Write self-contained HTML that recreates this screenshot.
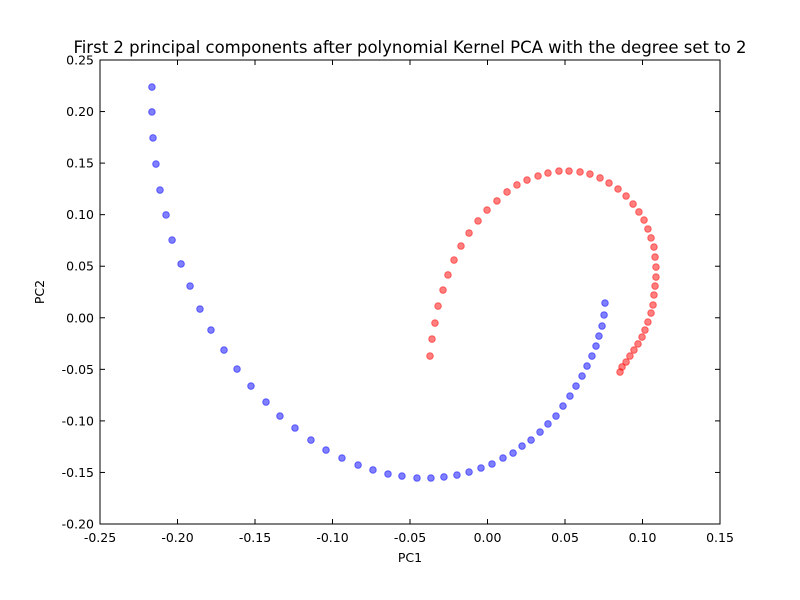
<!DOCTYPE html>
<html><head><meta charset="utf-8"><style>
body{margin:0;background:#fff;}
svg{display:block;font-family:"DejaVu Sans","Liberation Sans",sans-serif;}
</style></head><body>
<svg id="chart" width="800" height="600"></svg>
<script>
const xTicks=[-0.25,-0.20,-0.15,-0.10,-0.05,0.00,0.05,0.10,0.15];
const yTicks=[-0.20,-0.15,-0.10,-0.05,0.00,0.05,0.10,0.15,0.20,0.25];
const blueX=[-0.2165,-0.2165,-0.2158,-0.2139,-0.2113,-0.2074,-0.2035,-0.1977,-0.1919,-0.1855,-0.1784,-0.1700,-0.1616,-0.1526,-0.1429,-0.1339,-0.1242,-0.1139,-0.1042,-0.0939,-0.0835,-0.0739,-0.0642,-0.0552,-0.0455,-0.0365,-0.0281,-0.0197,-0.0119,-0.0042,0.0029,0.0100,0.0165,0.0223,0.0281,0.0339,0.0390,0.0442,0.0487,0.0532,0.0571,0.0610,0.0642,0.0674,0.0700,0.0719,0.0739,0.0752,0.0758];
const blueY=[0.2238,0.1996,0.1744,0.1491,0.1239,0.0997,0.0754,0.0522,0.0308,0.0085,-0.0119,-0.0313,-0.0497,-0.0662,-0.0817,-0.0953,-0.1069,-0.1186,-0.1283,-0.1360,-0.1428,-0.1476,-0.1515,-0.1535,-0.1554,-0.1554,-0.1544,-0.1525,-0.1496,-0.1457,-0.1418,-0.1360,-0.1312,-0.1244,-0.1186,-0.1108,-0.1030,-0.0953,-0.0856,-0.0759,-0.0662,-0.0565,-0.0468,-0.0371,-0.0274,-0.0177,-0.0080,0.0027,0.0143];
const redX=[-0.0371,-0.0358,-0.0339,-0.0319,-0.0287,-0.0255,-0.0216,-0.0171,-0.0119,-0.0061,-0.0003,0.0061,0.0126,0.0190,0.0255,0.0326,0.0390,0.0461,0.0526,0.0597,0.0661,0.0726,0.0784,0.0842,0.0894,0.0939,0.0977,0.1010,0.1035,0.1055,0.1074,0.1081,0.1087,0.1087,0.1081,0.1074,0.1068,0.1055,0.1035,0.1016,0.0997,0.0971,0.0945,0.0919,0.0894,0.0868,0.0855];
const redY=[-0.0371,-0.0206,-0.0051,0.0114,0.0269,0.0415,0.0560,0.0696,0.0822,0.0939,0.1045,0.1133,0.1220,0.1288,0.1336,0.1375,0.1404,0.1423,0.1423,0.1414,0.1394,0.1356,0.1307,0.1249,0.1181,0.1103,0.1026,0.0948,0.0861,0.0774,0.0686,0.0589,0.0492,0.0395,0.0308,0.0221,0.0124,0.0046,-0.0041,-0.0119,-0.0187,-0.0254,-0.0313,-0.0371,-0.0429,-0.0477,-0.0526];

const L=100,R=720,T=60,B=524,xmin=-0.25,xmax=0.15,ymin=-0.2,ymax=0.25;
const sx=v=>L+(v-xmin)/(xmax-xmin)*(R-L);
const sy=v=>B-(v-ymin)/(ymax-ymin)*(B-T);
const svg=document.getElementById('chart');
const NS='http://www.w3.org/2000/svg';
function mk(tag,attrs,parent){const e=document.createElementNS(NS,tag);for(const k in attrs)e.setAttribute(k,attrs[k]);(parent||svg).appendChild(e);return e;}

const title=mk('text',{x:410,y:53,'text-anchor':'middle','font-size':16.5,fill:'#000'});
title.textContent='First 2 principal components after polynomial Kernel PCA with the degree set to 2';



const pts=mk('g',{});


function series(xs,ys,fill,name){
  const g=mk('g',{},pts);
  
  
  for(let i=0;i<xs.length;i++){
    const c=mk('circle',{cx:sx(xs[i]),cy:sy(ys[i]),r:3.3,fill:fill,'fill-opacity':0.5,stroke:fill,'stroke-opacity':0.5,'stroke-width':1},g);
    
    
  }
}
series(redX,redY,'#ff0000','red-series');
series(blueX,blueY,'#0000ff','blue-series');

const frame=mk('rect',{x:L,y:T,width:R-L,height:B-T,fill:'none',stroke:'#000','stroke-width':1});



const xa=mk('g',{});


xTicks.forEach(v=>{
  const x=sx(v);
  mk('line',{x1:x,x2:x,y1:B,y2:B-5,stroke:'#000'},xa);
  mk('line',{x1:x,x2:x,y1:T,y2:T+5,stroke:'#000'},xa);
  const t=mk('text',{x:x,y:B+18,'text-anchor':'middle','font-size':12.5},xa);
  t.textContent=v.toFixed(2);
  
  
});
const ya=mk('g',{});


yTicks.forEach(v=>{
  const y=sy(v);
  mk('line',{x1:L,x2:L+5,y1:y,y2:y,stroke:'#000'},ya);
  mk('line',{x1:R,x2:R-5,y1:y,y2:y,stroke:'#000'},ya);
  const t=mk('text',{x:L-6,y:y+4.5,'text-anchor':'end','font-size':12.5},ya);
  t.textContent=v.toFixed(2);
  
  
});
const xt=mk('text',{x:410,y:562,'text-anchor':'middle','font-size':12.5});
xt.textContent='PC1';


const yt=mk('text',{x:44,y:292,'text-anchor':'middle','font-size':12.5,transform:'rotate(-90 44 292)'});
yt.textContent='PC2';


</script>
</body></html>
